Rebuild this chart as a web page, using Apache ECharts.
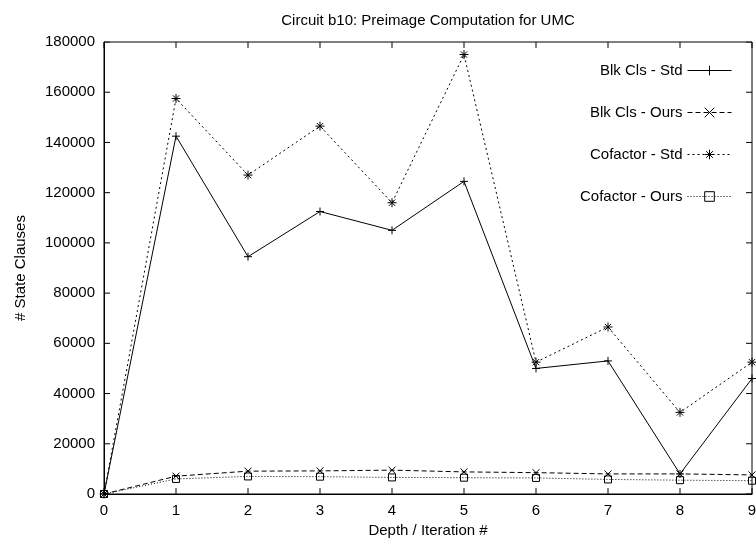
<!DOCTYPE html>
<html><head><meta charset="utf-8">
<script src="https://cdn.jsdelivr.net/npm/echarts@6/dist/echarts.min.js"></script>
<style>html,body{margin:0;padding:0;background:#fff}#c{width:756px;height:539px}</style>
</head><body><div id="c"></div>
<script>
const depths = [0,1,2,3,4,5,6,7,8,9];
const blkStd = [0,142500,94500,112500,105000,124500,50000,53000,8000,46000];
const blkOurs = [0,7100,9100,9200,9500,8800,8500,8000,8000,7600];
const cofStd = [0,157500,127000,146500,116000,175000,52500,66500,32500,52500];
const cofOurs = [0,6000,7000,6900,6600,6500,6400,5800,5500,5300];
const seriesNames = ['Blk Cls - Std','Blk Cls - Ours','Cofactor - Std','Cofactor - Ours'];
const yTicks = [0,20000,40000,60000,80000,100000,120000,140000,160000,180000];
const xTicks = [0,1,2,3,4,5,6,7,8,9];

const plusSym = 'path://M0,5L10,5M5,0L5,10';
const xSym = 'path://M0,0L10,10M10,0L0,10';
const starSym = 'path://M0,5L10,5M5,0L5,10M1.5,1.5L8.5,8.5M8.5,1.5L1.5,8.5';
const boxSym = 'path://M0,0L10,0L10,10L0,10Z';
const pts = a => depths.map((d,i)=>[d,a[i]]);
const font = 'Liberation Sans, Arial, sans-serif';
const fs = 15;
const TL = 6;
function mk(name, data, sym, size, dash){
  return {name, type:'line', data:pts(data), symbol:sym, symbolSize:size,
    showSymbol:true, animation:false,
    lineStyle:{color:'#000', width:1, type:dash},
    itemStyle:{color:'rgba(0,0,0,0)', borderColor:'#000', borderWidth:1}};
}
const xMin = xTicks[0], xMax = xTicks[xTicks.length-1];
const yMin = yTicks[0], yMax = yTicks[yTicks.length-1];
// mirrored inside ticks drawn as tiny line series through the axes' own scales
const tickStyle = {color:'#000', width:1};
const tickSeries = [];
yTicks.forEach(v => {
  tickSeries.push({type:'line', silent:true, symbol:'none', z:5, lineStyle:tickStyle, animation:false,
    data:[[xMin, v],[xMin + 6*(xMax-xMin)/648, v]]});
  tickSeries.push({type:'line', silent:true, symbol:'none', z:5, lineStyle:tickStyle, animation:false,
    data:[[xMax - 6*(xMax-xMin)/648, v],[xMax, v]]});
});
xTicks.forEach(v => {
  tickSeries.push({type:'line', silent:true, symbol:'none', z:5, lineStyle:tickStyle, animation:false,
    data:[[v, yMin],[v, yMin + 6*(yMax-yMin)/452]]});
  tickSeries.push({type:'line', silent:true, symbol:'none', z:5, lineStyle:tickStyle, animation:false,
    data:[[v, yMax - 6*(yMax-yMin)/452],[v, yMax]]});
});
const chart = echarts.init(document.getElementById('c'));
chart.setOption({
  animation:false,
  title:{text:'Circuit b10: Preimage Computation for UMC', left:423, top:8, textAlign:'center',
    textStyle:{fontFamily:font, fontSize:fs, fontWeight:'normal', color:'#000'}},
  grid:{left:104, right:4, top:42, bottom:45, outerBoundsMode:'none', containLabel:false,
    show:true, borderColor:'#000', borderWidth:1, backgroundColor:'transparent'},
  legend:{orient:'vertical', right:19, top:58, align:'right', itemWidth:44, itemHeight:12, itemGap:27,
    textStyle:{fontFamily:font, fontSize:fs, color:'#000'}, data:seriesNames,
    lineStyle:{width:1}, itemStyle:{borderWidth:1}},
  xAxis:{type:'value', min:xMin, max:xMax, interval:1, name:'Depth / Iteration #', nameLocation:'middle', nameGap:29,
    nameTextStyle:{fontFamily:font, fontSize:fs, color:'#000'},
    axisLine:{show:true, onZero:false, lineStyle:{color:'#000'}}, axisTick:{show:false},
    axisLabel:{fontFamily:font, fontSize:fs, color:'#000', margin:9}, splitLine:{show:false}},
  yAxis:{type:'value', min:yMin, max:yMax, interval:20000, name:'# State Clauses', nameLocation:'middle', nameGap:76,
    nameTextStyle:{fontFamily:font, fontSize:fs, color:'#000'},
    axisLine:{show:true, onZero:false, lineStyle:{color:'#000'}}, axisTick:{show:false},
    axisLabel:{fontFamily:font, fontSize:fs, color:'#000', margin:9, formatter:v=>String(v)}, splitLine:{show:false}},
  series:[
    mk(seriesNames[0], blkStd, plusSym, 8, 'solid'),
    mk(seriesNames[1], blkOurs, xSym, 7, [5,3]),
    mk(seriesNames[2], cofStd, starSym, 9, [2,3]),
    mk(seriesNames[3], cofOurs, boxSym, 7, [1,2])
  ].concat(tickSeries)
});
</script></body></html>
